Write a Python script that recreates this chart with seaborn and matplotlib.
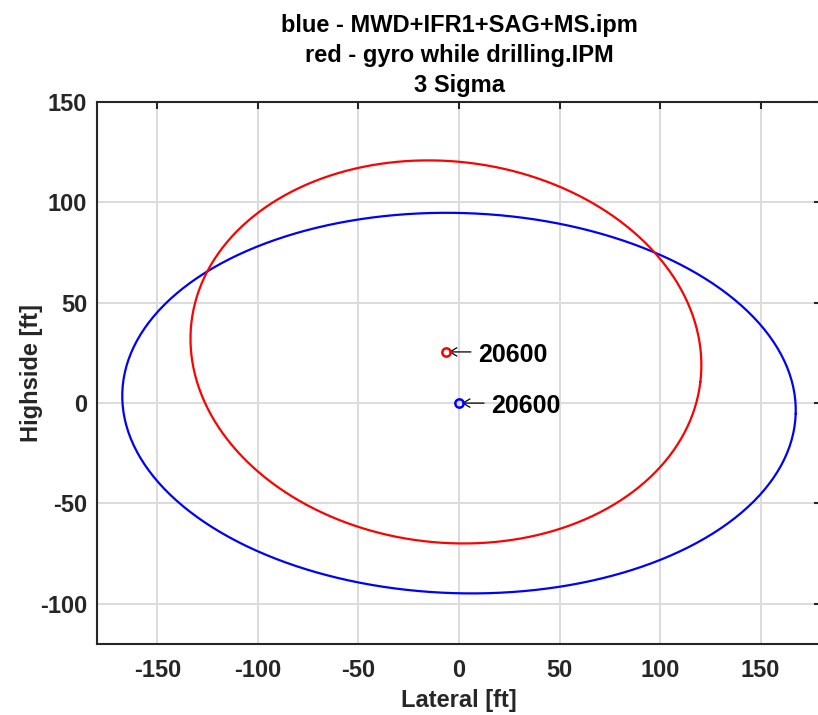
import numpy as np
import pandas as pd
import matplotlib
matplotlib.use("Agg")
import matplotlib.pyplot as plt
import seaborn as sns

# Error ellipse parameters (ft) for the two survey tool models
models = ["MWD+IFR1+SAG+MS.ipm", "gyro while drilling.IPM"]
colors = ["blue", "red"]
center_lateral = [0.0, -6.5]
center_highside = [0.0, 25.5]
semi_lateral = [167.5, 127.4]
semi_highside = [94.7, 94.9]
tilt_deg = [-1.8, -6.7]
depth_labels = ["20600", "20600"]

x_ticks = [-150, -100, -50, 0, 50, 100, 150]
y_ticks = [-100, -50, 0, 50, 100, 150]

sns.set_style("white")
plt.rcParams["font.family"] = ["Liberation Sans", "DejaVu Sans"]
plt.rcParams["font.weight"] = "bold"
plt.rcParams["axes.unicode_minus"] = False

fig = plt.figure(figsize=(8.18, 7.15), dpi=100)
ax = fig.add_axes([97 / 818, 71 / 715, (821 - 97) / 818, (644 - 102) / 715])

t = np.linspace(0, 2 * np.pi, 361)
for i in range(len(models)):
    th = np.deg2rad(tilt_deg[i])
    ex = semi_lateral[i] * np.cos(t)
    ey = semi_highside[i] * np.sin(t)
    df = pd.DataFrame({
        "lateral": center_lateral[i] + ex * np.cos(th) - ey * np.sin(th),
        "highside": center_highside[i] + ex * np.sin(th) + ey * np.cos(th),
    })
    sns.lineplot(data=df, x="lateral", y="highside", sort=False, estimator=None,
                 color=colors[i], lw=1.6, ax=ax, zorder=3)

for i in range(len(models)):
    pt = (center_lateral[i], center_highside[i])
    ax.plot(*pt, "o", mfc="none", mec=colors[i], mew=1.8, ms=6, zorder=4)
    # horizontal arrow pointing back at the station, then the depth label
    ax.annotate("", xy=pt, xytext=(18, 0), textcoords="offset points",
                arrowprops=dict(arrowstyle="->,head_length=0.5,head_width=0.3",
                                color="black", lw=0.9, shrinkA=0, shrinkB=2))
    ax.annotate(depth_labels[i], xy=pt, xytext=(23, -2), textcoords="offset points",
                ha="left", va="center", fontsize=18, fontweight="bold", color="black")

ax.set_xlim(-180, 180)
ax.set_ylim(-120, 150)
ax.set_xticks(x_ticks)
ax.set_yticks(y_ticks)
ax.grid(True, color="#dcdcdc", lw=1.4)
ax.set_axisbelow(True)
for s in ax.spines.values():
    s.set_color("#262626")
    s.set_linewidth(1.5)
ax.tick_params(direction="in", length=5, width=1.5, color="#262626",
               labelsize=17, labelcolor="#262626", top=True, right=True)
ax.tick_params(axis="x", pad=11)
ax.tick_params(axis="y", pad=7)
for lab in ax.get_xticklabels() + ax.get_yticklabels():
    lab.set_fontweight("bold")

ax.set_xlabel("Lateral [ft]", fontsize=17, fontweight="bold", labelpad=5)
ax.set_ylabel("Highside [ft]", fontsize=17, fontweight="bold", labelpad=-2)
ax.set_title("blue - MWD+IFR1+SAG+MS.ipm\nred - gyro while drilling.IPM\n3 Sigma",
             fontsize=17, fontweight="bold", color="black", linespacing=1.4, pad=7)

fig.savefig("out.png", dpi=100)
